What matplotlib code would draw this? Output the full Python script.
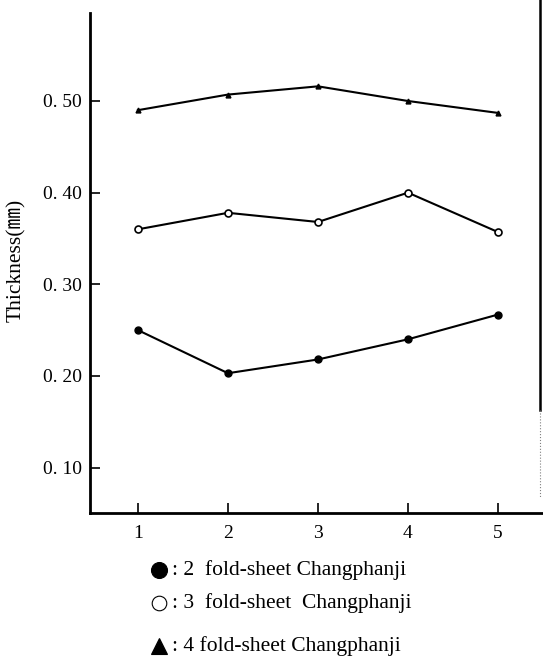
import matplotlib.pyplot as plt
from matplotlib.lines import Line2D

positions = [1, 2, 3, 4, 5]
fold2 = [0.250, 0.203, 0.218, 0.240, 0.267]
fold3 = [0.360, 0.378, 0.368, 0.400, 0.357]
fold4 = [0.490, 0.507, 0.516, 0.500, 0.487]
yticks = [0.10, 0.20, 0.30, 0.40, 0.50]
ytick_labels = ["0. 10", "0. 20", "0. 30", "0. 40", "0. 50"]
legend_labels = [": 2  fold-sheet Changphanji",
                 ": 3  fold-sheet  Changphanji",
                 ": 4 fold-sheet Changphanji"]

plt.rcParams["font.family"] = ["Liberation Serif", "Noto Sans CJK SC"]

fig = plt.figure(figsize=(5.43, 6.57), dpi=100)
ax = fig.add_axes([0.1657, 0.2192, 0.8343, 0.761])

ax.plot(positions, fold2, color="black", lw=1.5, marker="o", ms=5,
        mfc="black", mec="black")
ax.plot(positions, fold3, color="black", lw=1.5, marker="o", ms=5,
        mfc="white", mec="black", mew=1.2)
ax.plot(positions, fold4, color="black", lw=1.5, marker="^", ms=3.5,
        mfc="black", mec="black")

ax.set_xlim(0.467, 5.5)
ax.set_ylim(0.0505, 0.596)
ax.set_xticks(positions)
ax.set_yticks(yticks)
ax.set_yticklabels(ytick_labels)
ax.tick_params(direction="in", length=7, width=1.2, labelsize=14, pad=6)
ax.tick_params(axis="x", pad=9)

for s in ["top", "right"]:
    ax.spines[s].set_visible(False)
for s in ["left", "bottom"]:
    ax.spines[s].set_linewidth(2)

fig.text(0.03, 0.604, "Thickness(㎜)", rotation=90, ha="center", va="center",
         fontsize=15.5)

# page border line on the right
fig.add_artist(Line2D([540 / 543, 540 / 543], [1.0, 1 - 410 / 657],
                      color="black", lw=1.8, transform=fig.transFigure))
fig.add_artist(Line2D([540 / 543, 540 / 543], [1 - 410 / 657, 1 - 497 / 657],
                      color="gray", lw=0.8, ls=":", transform=fig.transFigure))

# legend below the chart
legend_y = [570, 603, 646]
markers = [("o", "black", 11.5), ("o", "white", 10.5), ("^", "black", 11)]
for (m, fc, size), yy, lab in zip(markers, legend_y, legend_labels):
    fy = 1 - yy / 657
    fig.add_artist(Line2D([159 / 543], [fy], marker=m, ms=size,
                          mfc=fc, mec="black", mew=0.8, ls="none",
                          transform=fig.transFigure))
    fig.text(172 / 543, fy, lab, ha="left", va="center", fontsize=15.5)

fig.savefig("out.png", dpi=100)
